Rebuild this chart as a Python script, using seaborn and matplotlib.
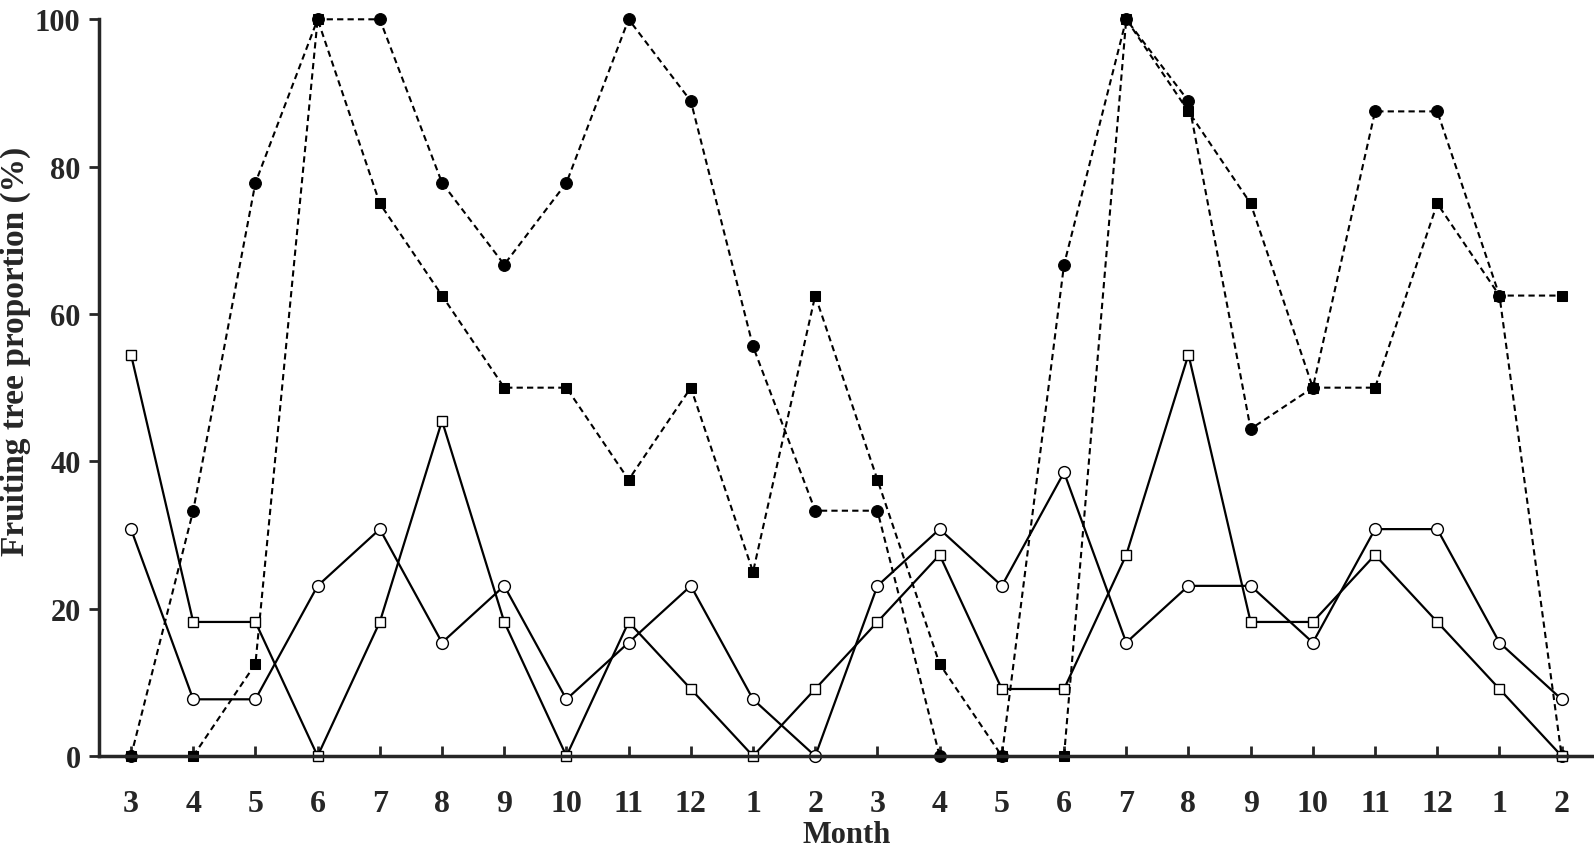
import numpy as np
import pandas as pd
import seaborn as sns
import matplotlib.pyplot as plt

# month labels over two years (March to February)
months = ['3', '4', '5', '6', '7', '8', '9', '10', '11', '12', '1', '2',
          '3', '4', '5', '6', '7', '8', '9', '10', '11', '12', '1', '2']

# filled circles, dashed
filled_circle = [0, 33.3, 77.8, 100, 100, 77.8, 66.7, 77.8, 100, 88.9, 55.6, 33.3,
                 33.3, 0, 0, 66.7, 100, 88.9, 44.4, 50, 87.5, 87.5, 62.5, 0]
# filled squares, dashed
filled_square = [0, 0, 12.5, 100, 75, 62.5, 50, 50, 37.5, 50, 25, 62.5,
                 37.5, 12.5, 0, 0, 100, 87.5, 75, 50, 50, 75, 62.5, 62.5]
# open circles, solid
open_circle = [30.8, 7.7, 7.7, 23.1, 30.8, 15.4, 23.1, 7.7, 15.4, 23.1, 7.7, 0,
               23.1, 30.8, 23.1, 38.5, 15.4, 23.1, 23.1, 15.4, 30.8, 30.8, 15.4, 7.7]
# open squares, solid
open_square = [54.5, 18.2, 18.2, 0, 18.2, 45.5, 18.2, 0, 18.2, 9.1, 0, 9.1,
               18.2, 27.3, 9.1, 9.1, 27.3, 54.5, 18.2, 18.2, 27.3, 18.2, 9.1, 0]

sns.set_style('ticks')
plt.rcParams['font.family'] = ['Liberation Serif', 'DejaVu Serif']
plt.rcParams['font.weight'] = 'bold'

fig = plt.figure(figsize=(15.94, 8.53), dpi=100)
ax = fig.add_axes([0.0619, 0.1125, 0.9381, 0.8637])

x = np.arange(len(months))

# dashed series
sns.lineplot(x=x, y=filled_circle, ax=ax, color='black', linewidth=1.5,
             linestyle=(0, (3, 2)), marker='o', markersize=8.5,
             markerfacecolor='black', markeredgecolor='black', clip_on=False)
sns.lineplot(x=x, y=filled_square, ax=ax, color='black', linewidth=1.5,
             linestyle=(0, (3, 2)), marker='s', markersize=7.5,
             markerfacecolor='black', markeredgecolor='black', clip_on=False)
# solid series
sns.lineplot(x=x, y=open_circle, ax=ax, color='black', linewidth=1.6,
             marker='o', markersize=8.5, markerfacecolor='white',
             markeredgecolor='black', markeredgewidth=1.0, clip_on=False)
sns.lineplot(x=x, y=open_square, ax=ax, color='black', linewidth=1.6,
             marker='s', markersize=7.5, markerfacecolor='white',
             markeredgecolor='black', markeredgewidth=1.0, clip_on=False)

ax.set_xlim(-0.52, 23.52)
ax.set_ylim(0, 100)
ax.set_yticks([0, 20, 40, 60, 80, 100])
ax.set_xticks(x)
ax.set_xticklabels(months)

sns.despine(ax=ax)
for s in ['left', 'bottom']:
    ax.spines[s].set_linewidth(2.5)

ax.tick_params(axis='x', direction='in', length=7, width=2, pad=24, labelsize=23)
ax.tick_params(axis='y', direction='out', length=7, width=2, pad=6, labelsize=22)

ax.set_xlabel('Month', fontsize=22, fontweight='bold', labelpad=1)
ax.set_ylabel('Fruiting tree proportion (%)', fontsize=24, fontweight='bold')
ax.yaxis.set_label_coords(-0.045, 0.55)

fig.savefig('out.png', dpi=100)
